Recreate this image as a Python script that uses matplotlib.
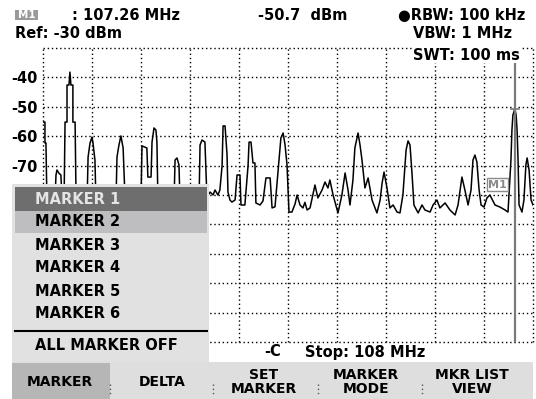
import matplotlib
matplotlib.use("Agg")
import matplotlib.pyplot as plt
from matplotlib.patches import Rectangle

# spectrum sweep, 88 .. 108 MHz
start_mhz = 88
stop_mhz = 108
ref_dbm = -30
bottom_dbm = -130
level_labels = [-40, -50, -60, -70, -80, -90]

trace_mhz = [88.00, 88.08, 88.08, 88.12, 88.16, 88.49, 88.53, 88.57, 88.65, 88.73,
             88.78, 88.86, 88.90, 88.98, 88.98, 89.06, 89.10, 89.14, 89.22, 89.22,
             89.31, 89.35, 89.80, 89.84, 89.92, 90.00, 90.04, 90.12, 90.16, 90.98,
             91.02, 91.10, 91.18, 91.27, 91.35, 92.00, 92.04, 92.24, 92.28, 92.41,
             92.45, 92.53, 92.61, 92.65, 92.69, 93.35, 93.39, 93.47, 93.55, 93.59,
             94.37, 94.41, 94.49, 94.61, 94.69, 94.82, 94.94, 95.02, 95.14, 95.22,
             95.31, 95.35, 95.43, 95.51, 95.55, 95.63, 95.71, 95.84, 95.92, 96.04,
             96.08, 96.24, 96.37, 96.41, 96.49, 96.57, 96.65, 96.69, 96.86, 96.98,
             97.10, 97.27, 97.35, 97.47, 97.63, 97.71, 97.80, 97.88, 97.96, 98.04,
             98.16, 98.29, 98.37, 98.49, 98.61, 98.69, 98.78, 98.90, 99.10, 99.22,
             99.39, 99.51, 99.63, 99.71, 99.84, 100.04, 100.20, 100.33, 100.45, 100.53,
             100.65, 100.73, 100.86, 100.94, 101.02, 101.14, 101.27, 101.35, 101.43, 101.63,
             101.76, 101.84, 101.92, 102.04, 102.16, 102.29, 102.45, 102.57, 102.69, 102.82,
             102.90, 102.98, 103.06, 103.14, 103.31, 103.47, 103.59, 103.80, 103.92, 104.08,
             104.20, 104.41, 104.61, 104.82, 104.94, 105.10, 105.22, 105.35, 105.47, 105.55,
             105.63, 105.71, 105.80, 105.88, 106.00, 106.12, 106.24, 106.45, 106.65, 106.86,
             106.98, 107.10, 107.14, 107.18, 107.26, 107.31, 107.35, 107.39, 107.43, 107.55,
             107.63, 107.71, 107.76, 107.84, 107.92, 108.00]
trace_dbm = [-55.2, -55.2, -62.3, -62.3, -81.7, -81.7, -73.2, -71.5, -72.6, -73.2,
             -81.7, -81.7, -55.2, -55.2, -42.6, -42.6, -38.2, -42.6, -42.6, -55.2,
             -55.2, -81.7, -81.7, -67.1, -62.3, -60.3, -62.3, -68.1, -81.7, -81.7,
             -67.1, -63.0, -59.9, -64.0, -81.7, -81.7, -63.3, -64.0, -73.9, -73.9,
             -62.0, -57.2, -57.9, -62.0, -81.7, -81.7, -68.1, -67.4, -69.8, -81.7,
             -81.7, -63.0, -61.3, -62.0, -80.7, -79.0, -80.0, -78.3, -80.0, -78.3,
             -70.0, -56.5, -56.5, -66.0, -79.0, -81.7, -82.4, -81.7, -73.2, -73.2,
             -83.4, -83.4, -70.0, -62.0, -62.0, -69.1, -69.1, -82.7, -83.4, -82.0,
             -74.2, -74.2, -84.4, -84.0, -68.1, -60.6, -58.9, -63.0, -69.8, -85.8,
             -85.8, -83.0, -80.0, -83.4, -84.4, -82.5, -85.1, -84.4, -76.6, -81.0,
             -78.3, -75.6, -77.6, -74.9, -80.0, -86.1, -80.0, -72.5, -78.3, -83.4,
             -75.0, -64.0, -58.9, -63.0, -68.1, -77.6, -74.2, -78.0, -81.7, -86.1,
             -81.7, -76.0, -72.2, -77.6, -84.4, -83.4, -85.8, -86.1, -80.0, -64.7,
             -61.6, -63.0, -72.5, -83.4, -86.1, -83.4, -85.1, -85.8, -83.4, -81.7,
             -84.4, -82.7, -85.1, -86.8, -83.4, -73.9, -78.3, -83.4, -78.3, -68.1,
             -66.4, -68.8, -78.3, -83.4, -84.1, -81.0, -80.0, -83.4, -84.1, -85.1,
             -85.8, -68.1, -57.9, -52.8, -50.7, -52.8, -57.9, -68.1, -83.4, -85.8,
             -81.7, -69.8, -67.4, -71.5, -81.7, -83.4]

marker_mhz = 107.26
marker_dbm = -50.7
menu_items = ["MARKER 1", "MARKER 2", "MARKER 3", "MARKER 4", "MARKER 5", "MARKER 6"]
softkeys = ["MARKER", "DELTA", "SET\nMARKER", "MARKER\nMODE", "MKR LIST\nVIEW"]

W, H = 536, 399
plt.rcParams["font.family"] = ["DejaVu Sans"]
plt.rcParams["font.weight"] = "bold"
fig = plt.figure(figsize=(W / 100, H / 100), dpi=100)
fig.patch.set_facecolor("white")


def fx(px):
    return px / W


def fy(py):
    return 1 - py / H


def box(x0, y0, x1, y1, color, **kw):
    r = Rectangle((fx(x0), fy(y1)), fx(x1 - x0), (y1 - y0) / H, transform=fig.transFigure,
                  facecolor=color, **kw)
    fig.add_artist(r)
    return r


ax = fig.add_axes([fx(43), fy(342), fx(490), 294 / H])
ax.set_xlim(start_mhz, stop_mhz)
ax.set_ylim(bottom_dbm, ref_dbm)
for s in ax.spines.values():
    s.set_visible(False)
ax.set_xticks([])
ax.set_yticks(level_labels)
ax.set_yticklabels([str(v) for v in level_labels], fontsize=10.5, fontweight="bold")
ax.tick_params(axis="y", length=0, pad=4)

dots = (0, (1, 2))
ax.vlines(range(start_mhz, stop_mhz + 1, 2), bottom_dbm, ref_dbm, colors="black",
          linestyles=dots, lw=1, clip_on=False)
ax.hlines(range(bottom_dbm, ref_dbm + 1, 10), start_mhz, stop_mhz, colors="black",
          linestyles=dots, lw=1, clip_on=False)

ax.plot(trace_mhz, trace_dbm, color="black", lw=1.1, zorder=3)
ax.axvline(marker_mhz, color="#7a7a7a", lw=1.6, zorder=4)
ax.plot([marker_mhz - 0.15, marker_mhz + 0.15], [marker_dbm, marker_dbm], color="#7a7a7a", lw=1.2, zorder=4)
ax.text(106.55, -76.5, "M1", fontsize=8, color="#8a8a8a", ha="center", va="center", zorder=5,
        bbox=dict(boxstyle="square,pad=0.12", fc="white", ec="#8a8a8a", lw=1))

# header
box(15, 10, 38, 20, "#9a9a9a")
fig.text(fx(26.5), fy(15), "M1", fontsize=7.5, color="white", ha="center", va="center")
fig.text(fx(72), fy(15), ": 107.26 MHz", fontsize=10.5, ha="left", va="center")
fig.text(fx(258), fy(15), "-50.7  dBm", fontsize=10.5, ha="left", va="center")
fig.text(fx(398), fy(15), "\u25cfRBW: 100 kHz", fontsize=10.5, ha="left", va="center")
fig.text(fx(15), fy(33), "Ref: -30 dBm", fontsize=10.5, ha="left", va="center")
fig.text(fx(413), fy(33), "VBW: 1 MHz", fontsize=10.5, ha="left", va="center")
fig.text(fx(413), fy(55), "SWT: 100 ms", fontsize=10.5, ha="left", va="center",
         bbox=dict(boxstyle="square,pad=0.05", fc="white", ec="none"))

# marker menu
box(12, 184, 209, 362, "#e1e1e1")
box(15, 187, 207, 211, "#6e6e6e")
box(15, 211, 207, 233, "#bebdbf")
item_y = [200, 222, 245, 268, 291, 313]
for i, (label, y) in enumerate(zip(menu_items, item_y)):
    fig.text(fx(35), fy(y), label, fontsize=10.5, ha="left", va="center",
             color="#e4e4e4" if i == 0 else "black")
fig.add_artist(plt.Line2D([fx(15), fx(207)], [fy(331), fy(331)], color="black", lw=1.5,
                          transform=fig.transFigure))
fig.text(fx(35), fy(346), "ALL MARKER OFF", fontsize=10.5, ha="left", va="center")

fig.text(fx(264), fy(352), "-C", fontsize=10.5, ha="left", va="center")
fig.text(fx(305), fy(352), "Stop: 108 MHz", fontsize=10.5, ha="left", va="center")

# softkey bar
box(12, 362, 533, 399, "#dedede")
box(12, 363, 110, 399, "#b6b6b6")
key_x = [60, 162, 264, 366, 472]
for label, x in zip(softkeys, key_x):
    fig.text(fx(x), fy(382), label, fontsize=10, ha="center", va="center", linespacing=0.95)
for x in [110, 213, 318, 422]:
    fig.add_artist(plt.Line2D([fx(x), fx(x)], [fy(384), fy(395)], color="#555555", lw=1,
                              linestyle=dots, transform=fig.transFigure))

fig.savefig("out.png", dpi=100)
